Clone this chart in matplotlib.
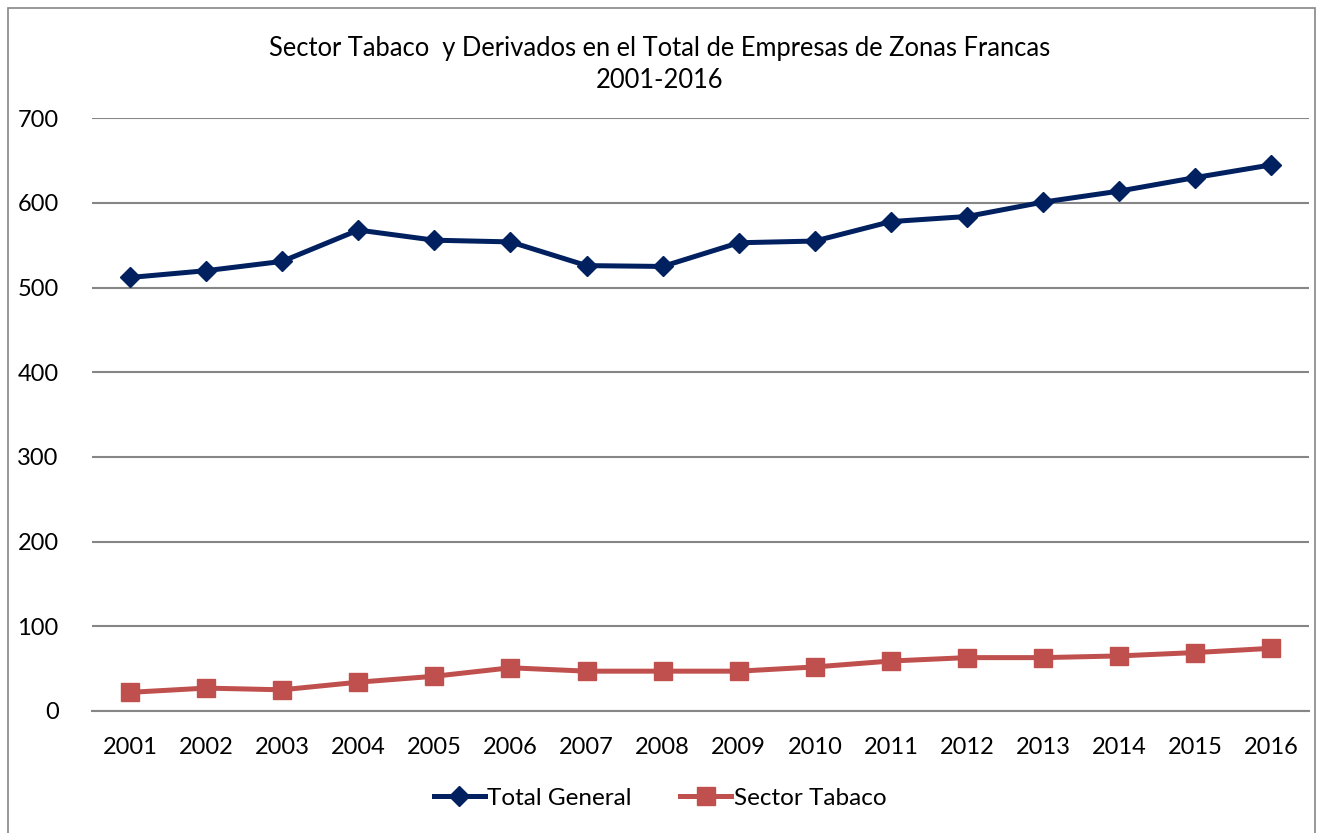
import matplotlib.pyplot as plt
import matplotlib.patches as patches
import numpy as np

years = ['2001', '2002', '2003', '2004', '2005', '2006', '2007', '2008',
         '2009', '2010', '2011', '2012', '2013', '2014', '2015', '2016']
total_general = [512, 520, 531, 568, 556, 554, 526, 525,
                 553, 555, 578, 584, 601, 614, 630, 645]
sector_tabaco = [22, 27, 25, 34, 41, 51, 47, 47,
                 47, 52, 59, 63, 63, 65, 69, 74]

plt.rcParams['font.family'] = ['Lato', 'DejaVu Sans']

fig = plt.figure(figsize=(13.2, 8.33), dpi=100)
ax = fig.add_axes([0.0697, 0.1465, 0.9223, 0.7115])

x = np.arange(len(years))
ax.plot(x, total_general, '-D', color='#002060', lw=3.6, ms=10, label='Total General')
ax.plot(x, sector_tabaco, '-s', color='#C0504D', lw=3.6, ms=13, label='Sector Tabaco')

ax.set_xlim(-0.5, len(years) - 0.5)
ax.set_ylim(0, 700)
ax.set_yticks(range(0, 701, 100))
ax.set_xticks(x)
ax.set_xticklabels(years)
ax.tick_params(length=0, labelsize=17, colors='black')
ax.tick_params(axis='x', pad=19)
ax.tick_params(axis='y', pad=24)
ax.grid(axis='y', color='#868686', lw=1.5)
ax.set_axisbelow(True)
for s in ['top', 'right', 'left']:
    ax.spines[s].set_visible(False)
ax.spines['bottom'].set_color('#868686')
ax.spines['bottom'].set_linewidth(1.5)

fig.text(0.5, 0.923, 'Sector Tabaco  y Derivados en el Total de Empresas de Zonas Francas\n2001-2016',
         ha='center', va='center', fontsize=18.4, linespacing=1.35)

fig.legend(loc='center', bbox_to_anchor=(0.5, 0.042), ncol=2, frameon=False,
           fontsize=17.5, handlelength=2.1, handletextpad=0.1, columnspacing=2.0)

fig.patches.append(patches.Rectangle((0.006, -0.01), 0.99, 1.0, transform=fig.transFigure,
                                     fill=False, edgecolor='#868686', lw=1.2))

plt.savefig('out.png', dpi=100)
